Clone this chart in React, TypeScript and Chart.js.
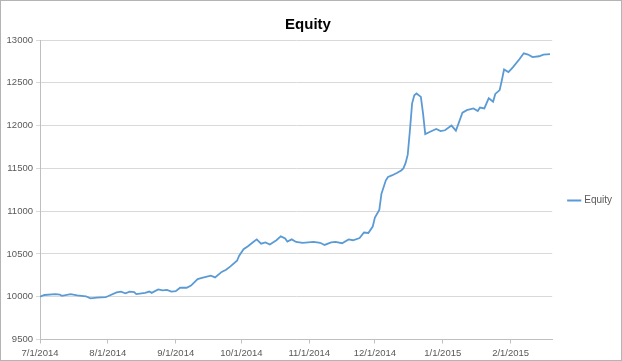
import React, { useEffect, useRef } from "react";
import { Chart, registerables } from "chart.js";

Chart.register(...registerables);

const startDate = "2014-07-01";
const endDate = "2015-02-20";

const dates = [
  "2014-07-01", "2014-07-03", "2014-07-08", "2014-07-10", "2014-07-11", "2014-07-15", "2014-07-18", "2014-07-22",
  "2014-07-24", "2014-07-27", "2014-07-31", "2014-08-01", "2014-08-05", "2014-08-07", "2014-08-09", "2014-08-11",
  "2014-08-13", "2014-08-14", "2014-08-18", "2014-08-20", "2014-08-21", "2014-08-24", "2014-08-26", "2014-08-28",
  "2014-08-30", "2014-09-01", "2014-09-03", "2014-09-06", "2014-09-08", "2014-09-11", "2014-09-13", "2014-09-17",
  "2014-09-19", "2014-09-22", "2014-09-24", "2014-09-26", "2014-09-29", "2014-09-30", "2014-10-02", "2014-10-04",
  "2014-10-06", "2014-10-08", "2014-10-10", "2014-10-12", "2014-10-14", "2014-10-17", "2014-10-19", "2014-10-21",
  "2014-10-22", "2014-10-24", "2014-10-26", "2014-10-29", "2014-11-03", "2014-11-06", "2014-11-08", "2014-11-11",
  "2014-11-13", "2014-11-16", "2014-11-19", "2014-11-21", "2014-11-24", "2014-11-26", "2014-11-28", "2014-11-30",
  "2014-12-01", "2014-12-03", "2014-12-04", "2014-12-06", "2014-12-07", "2014-12-09", "2014-12-11", "2014-12-13",
  "2014-12-14", "2014-12-15", "2014-12-16", "2014-12-17", "2014-12-18", "2014-12-19", "2014-12-20", "2014-12-22",
  "2014-12-23", "2014-12-24", "2014-12-26", "2014-12-29", "2014-12-31", "2015-01-02", "2015-01-05", "2015-01-07",
  "2015-01-10", "2015-01-12", "2015-01-15", "2015-01-17", "2015-01-18", "2015-01-20", "2015-01-22", "2015-01-24",
  "2015-01-25", "2015-01-27", "2015-01-28", "2015-01-29", "2015-01-31", "2015-02-02", "2015-02-05", "2015-02-07",
  "2015-02-09", "2015-02-11", "2015-02-14", "2015-02-16", "2015-02-19",
];

const equity = [
  10000, 10020, 10030, 10025, 10010, 10030, 10015, 10005,
  9980, 9990, 9995, 10005, 10050, 10060, 10040, 10060,
  10055, 10030, 10045, 10060, 10045, 10085, 10075, 10080,
  10060, 10065, 10105, 10105, 10130, 10205, 10220, 10245,
  10225, 10290, 10315, 10355, 10420, 10480, 10555, 10590,
  10630, 10670, 10620, 10635, 10610, 10660, 10705, 10680,
  10645, 10670, 10640, 10630, 10640, 10630, 10605, 10635,
  10640, 10625, 10670, 10660, 10685, 10750, 10745, 10820,
  10925, 11015, 11205, 11360, 11400, 11420, 11445, 11475,
  11500, 11560, 11660, 11945, 12260, 12355, 12375, 12335,
  12140, 11900, 11925, 11960, 11935, 11945, 12000, 11940,
  12150, 12180, 12200, 12170, 12210, 12200, 12320, 12280,
  12370, 12415, 12530, 12655, 12625, 12680, 12775, 12845,
  12830, 12800, 12810, 12830, 12835,
];

const tickDates = [
  "2014-07-01", "2014-08-01", "2014-09-01", "2014-10-01",
  "2014-11-01", "2014-12-01", "2015-01-01", "2015-02-01",
];

const yMin = 9500;
const yMax = 13000;
const yStep = 500;

const DAY = 86400000;
const dayOffset = (s: string) => Math.round((Date.parse(s) - Date.parse(startDate)) / DAY);
const fmtDate = (off: number) => {
  const d = new Date(Date.parse(startDate) + off * DAY);
  return `${d.getUTCMonth() + 1}/${d.getUTCDate()}/${d.getUTCFullYear()}`;
};

const FONT = '"Liberation Sans", Arial, sans-serif';

const legendShift = {
  id: "legendShift",
  afterLayout(chart: any) {
    const lg = chart.legend;
    if (!lg) return;
    lg.left += 7;
    lg.right += 7;
    lg.top += 20;
    lg.bottom += 20;
  },
};

export default function App() {
  const ref = useRef<HTMLCanvasElement | null>(null);

  useEffect(() => {
    document.body.style.margin = "0";
    if (!ref.current) return;
    const points = dates.map((d, i) => ({ x: dayOffset(d), y: equity[i] }));
    const chart = new Chart(ref.current, {
      type: "line",
      data: {
        datasets: [
          {
            label: "Equity",
            data: points,
            borderColor: "#5b9bd5",
            backgroundColor: "#5b9bd5",
            borderWidth: 1.8,
            pointRadius: 0,
            tension: 0,
          },
        ],
      },
      plugins: [legendShift],
      options: {
        animation: false,
        responsive: true,
        maintainAspectRatio: false,
        layout: { padding: { top: 0, right: 6, bottom: 0, left: 0 } },
        plugins: {
          title: {
            display: true,
            text: "Equity",
            color: "#000000",
            font: { family: FONT, size: 15, weight: "bold" },
            padding: { top: 15, bottom: 6 },
          },
          legend: {
            display: true,
            position: "right",
            labels: {
              usePointStyle: true,
              pointStyle: "line",
              boxWidth: 18,
              color: "#595959",
              font: { family: FONT, size: 10 },
              padding: 10,
            },
          },
          tooltip: { enabled: false },
        },
        scales: {
          x: {
            type: "linear",
            min: 0,
            max: dayOffset(endDate),
            afterBuildTicks: (axis: any) => {
              axis.ticks = tickDates.map((d) => ({ value: dayOffset(d) }));
            },
            afterFit: (axis: any) => {
              axis.height = axis.height - 3;
            },
            ticks: {
              autoSkip: false,
              maxRotation: 0,
              color: "#595959",
              font: { family: FONT, size: 9.5, lineHeight: 1 },
              padding: 5,
              callback: (v: any) => fmtDate(Number(v)),
            },
            grid: {
              drawOnChartArea: false,
              drawTicks: true,
              tickLength: 4,
              color: "#bfbfbf",
            },
            border: { color: "#bfbfbf" },
          },
          y: {
            min: yMin,
            max: yMax,
            ticks: {
              stepSize: yStep,
              color: "#595959",
              font: { family: FONT, size: 9.5 },
              padding: 3,
              callback: (v: any) => String(v),
            },
            afterFit: (axis: any) => {
              axis.width = 39;
            },
            grid: {
              color: "#d9d9d9",
              tickLength: 4,
              drawTicks: true,
            },
            border: { color: "#bfbfbf" },
          },
        },
      },
    });
    return () => chart.destroy();
  }, []);

  return (
    <div
      style={{
        position: "relative",
        width: 622,
        height: 361,
        boxSizing: "border-box",
        border: "1px solid #b4b4b4",
        background: "#ffffff",
      }}
    >
      <canvas ref={ref} />
    </div>
  );
}
